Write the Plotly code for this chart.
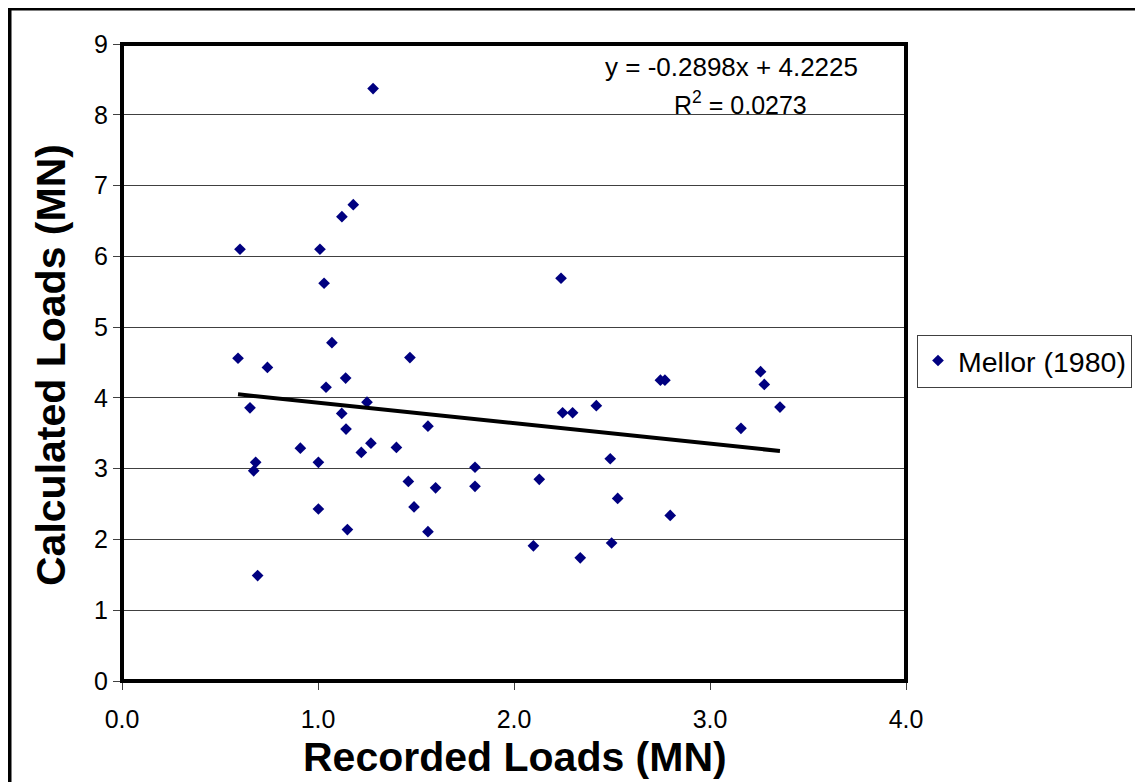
import plotly.graph_objects as go
import numpy as np

# Data
recorded_loads = [0.602, 1.010, 1.122, 1.180, 1.031, 1.071, 0.592, 0.742, 1.469, 1.141,
                  1.041, 0.653, 1.250, 1.121, 1.561, 1.143, 0.910, 1.270, 1.400, 1.221,
                  0.682, 0.672, 1.002, 1.461, 1.600, 1.801, 1.801, 1.490, 1.002, 1.150,
                  1.561, 2.129, 2.099, 0.692, 1.281, 2.240, 2.747, 2.770, 3.258, 3.277,
                  3.357, 3.158, 2.420, 2.248, 2.299, 2.491, 2.529, 2.797, 2.338, 2.498]
calculated_loads = [6.10, 6.10, 6.56, 6.73, 5.62, 4.78, 4.56, 4.43, 4.57, 4.28,
                    4.15, 3.86, 3.94, 3.78, 3.60, 3.56, 3.29, 3.36, 3.30, 3.23,
                    3.09, 2.97, 3.09, 2.82, 2.73, 3.02, 2.75, 2.46, 2.43, 2.14,
                    2.11, 2.85, 1.91, 1.49, 8.37, 5.69, 4.25, 4.25, 4.37, 4.19,
                    3.87, 3.57, 3.89, 3.79, 3.79, 3.14, 2.58, 2.34, 1.74, 1.95]
series_name = "Mellor (1980)"
trend_slope = -0.2898
trend_intercept = 4.2225
trend_r2 = 0.0273
x_tick_vals = [0, 1, 2, 3, 4]
x_tick_text = ["0.0", "1.0", "2.0", "3.0", "4.0"]
y_tick_vals = [0, 1, 2, 3, 4, 5, 6, 7, 8, 9]

FONT = "Liberation Sans, Arial, sans-serif"

trend_x = np.array([min(recorded_loads), max(recorded_loads)])
trend_y = trend_slope * trend_x + trend_intercept

fig = go.Figure()
fig.add_trace(go.Scatter(
    x=recorded_loads, y=calculated_loads, mode="markers", name=series_name,
    marker=dict(symbol="diamond", size=9, color="#000080", line=dict(width=0)),
))
fig.add_trace(go.Scatter(
    x=trend_x, y=trend_y, mode="lines", showlegend=False,
    line=dict(color="black", width=4), hoverinfo="skip",
))

# page has an 8px body margin, so the figure is laid out in page coordinates minus 8
OFF = 8
W, H = 1143 - OFF, 782 - OFF
L, R, T, B = 122 - OFF, 906 - OFF, 44 - OFF, 681 - OFF
pw, ph = R - L, B - T

def px2xp(px):  # page px -> paper x
    return (px - OFF - L) / pw

def py2yp(py):  # page py -> paper y
    return (B - (py - OFF)) / ph

fig.update_layout(
    width=W, height=H,
    margin=dict(l=L, r=W - R, t=T, b=H - B, autoexpand=False),
    paper_bgcolor="white", plot_bgcolor="white",
    font=dict(family=FONT, color="black"),
    showlegend=True,
    legend=dict(
        x=px2xp(917), y=py2yp(361), xanchor="left", yanchor="middle",
        bordercolor="#404040", borderwidth=1, bgcolor="white",
        font=dict(size=28.5, family=FONT, color="black"),
        itemsizing="trace",
    ),
    xaxis=dict(
        range=[0, 4], tickvals=x_tick_vals, ticktext=x_tick_text,
        showgrid=False, zeroline=False, showline=False,
        ticks="outside", ticklen=8, tickwidth=1, tickcolor="#404040",
        tickfont=dict(size=25, family=FONT, color="black"),
        ticklabelstandoff=8,
    ),
    yaxis=dict(
        range=[0, 9], tickvals=y_tick_vals,
        showgrid=True, gridcolor="#404040", gridwidth=1,
        zeroline=False, showline=False,
        ticks="outside", ticklen=8, tickwidth=1, tickcolor="#404040",
        tickfont=dict(size=25, family=FONT, color="black"),
    ),
    shapes=[
        dict(type="rect", xref="paper", yref="paper", x0=0, x1=1, y0=0, y1=1,
             line=dict(color="black", width=4), layer="above"),
        dict(type="rect", xref="paper", yref="paper",
             x0=px2xp(9.5), x1=px2xp(1152), y0=py2yp(792), y1=py2yp(8.5),
             line=dict(color="black", width=4), layer="above"),
    ],
    annotations=[
        dict(text=f"y = {trend_slope:.4f}x + {trend_intercept:.4f}",
             xref="paper", yref="paper", x=px2xp(731), y=py2yp(67),
             xanchor="center", yanchor="middle", showarrow=False,
             font=dict(size=26, family=FONT, color="black")),
        dict(text=f"R<sup>2</sup> = {trend_r2:.4f}",
             xref="paper", yref="paper", x=px2xp(740), y=py2yp(103),
             xanchor="center", yanchor="middle", showarrow=False,
             font=dict(size=25, family=FONT, color="black")),
        dict(text="<b>Recorded Loads (MN)</b>",
             xref="paper", yref="paper", x=px2xp(515), y=py2yp(757),
             xanchor="center", yanchor="middle", showarrow=False,
             font=dict(size=41, family=FONT, color="black")),
        dict(text="<b>Calculated Loads (MN)</b>", textangle=-90,
             xref="paper", yref="paper", x=px2xp(51), y=py2yp(365),
             xanchor="center", yanchor="middle", showarrow=False,
             font=dict(size=41, family=FONT, color="black")),
    ],
)

fig.write_html("out.html")
